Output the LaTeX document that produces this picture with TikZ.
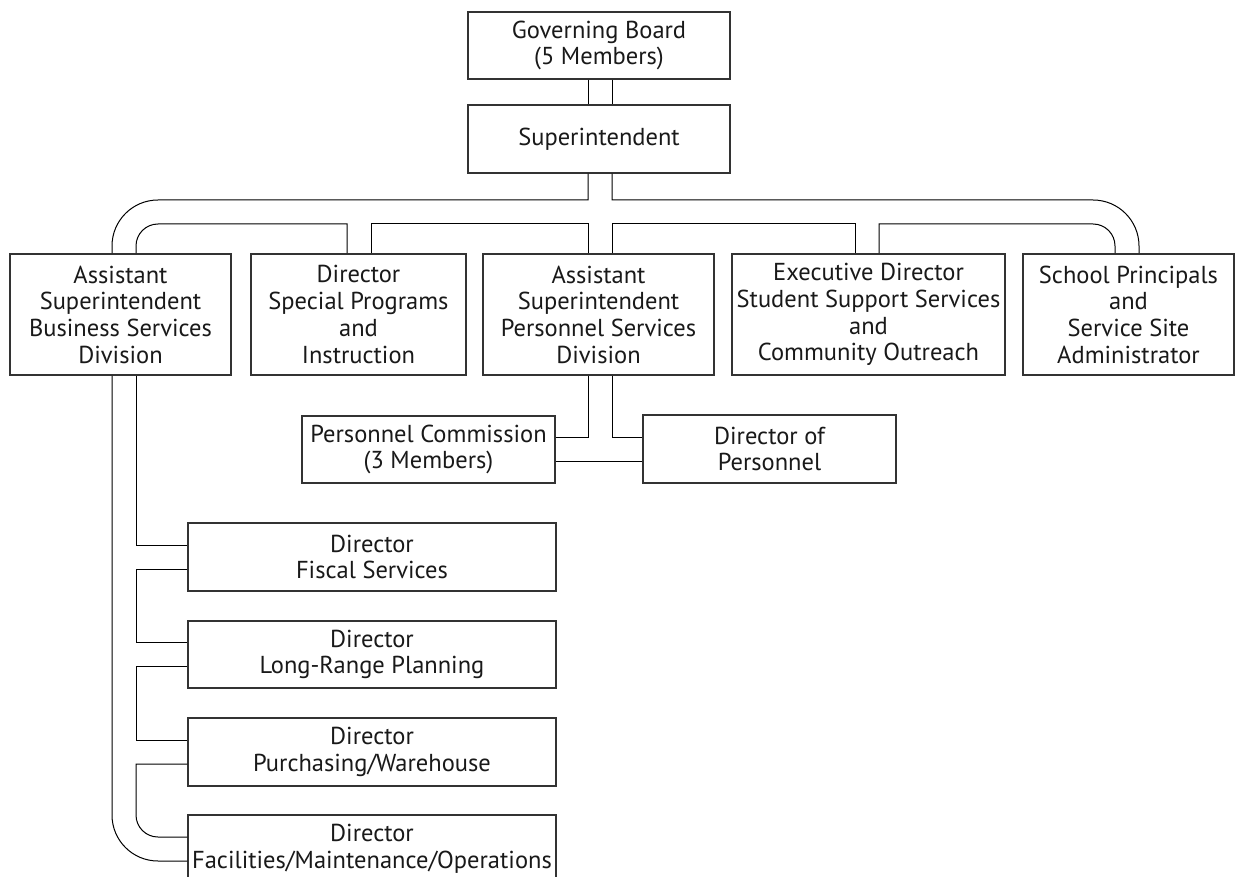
\documentclass[tikz,border=0pt]{standalone}
\usepackage{fontspec}
\setmainfont{PT Sans}
\usetikzlibrary{calc}
\begin{document}
\begin{tikzpicture}[x=1pt,y=-1pt,
  box/.style={draw=black!80, line width=1.5pt, fill=white, inner sep=0pt, align=center,
    text=black!90, font=\fontsize{24.5}{26.7}\selectfont},
  conn/.style={draw=black, line width=1pt}]
\useasboundingbox (0,0) rectangle (1237,877);
\clip (0,0) rectangle (1237,877);

% nodes
\node[box, minimum width=262, minimum height=67] (gb) at (599,45.5) {Governing Board\\(5 Members)};
\node[box, minimum width=262, minimum height=68] (sup) at (599,139) {Superintendent};
\node[box, minimum width=221, minimum height=121] (b1) at (120.5,314.5) {Assistant\\Superintendent\\Business Services\\Division};
\node[box, minimum width=215, minimum height=121] (b2) at (358.5,314.5) {Director\\Special Programs\\and\\Instruction};
\node[box, minimum width=231, minimum height=121] (b3) at (598.5,314.5) {Assistant\\Superintendent\\Personnel Services\\Division};
\node[box, minimum width=273, minimum height=121] (b4) at (868.5,314.5) {Executive Director\\Student Support Services\\and\\Community Outreach};
\node[box, minimum width=211, minimum height=121] (b5) at (1128.5,314.5) {School Principals\\and\\Service Site\\Administrator};
\node[box, minimum width=253, minimum height=67] (pc) at (428.5,449.5) {Personnel Commission\\(3 Members)};
\node[box, minimum width=253, minimum height=68] (dop) at (769.5,449) {Director of\\Personnel};
\node[box, minimum width=368, minimum height=68] (fs) at (372,557) {Director\\Fiscal Services};
\node[box, minimum width=368, minimum height=67] (lrp) at (372,654.5) {Director\\Long-Range Planning};
\node[box, minimum width=368, minimum height=68] (pw) at (372,752) {Director\\Purchasing/Warehouse};
\node[box, minimum width=368, minimum height=68] (fmo) at (372,849) {Director\\Facilities/Maintenance/Operations};

% helper coordinates
\coordinate (xL1) at (112,0);
\coordinate (xL2) at (136,0);
\coordinate (xA) at (588,0);
\coordinate (xB) at (612,0);
\coordinate (xC) at (347,0);
\coordinate (xD) at (371,0);
\coordinate (xE) at (855,0);
\coordinate (xF) at (879,0);
\coordinate (xR1) at (1139,0);
\coordinate (xR2) at (1115,0);
\coordinate (yO) at (0,200);
\coordinate (yI) at (0,224);
\coordinate (yP) at (0,437.5);

% board to superintendent
\draw[conn] (xA |- gb.south) -- (xA |- sup.north);
\draw[conn] (xB |- gb.south) -- (xB |- sup.north);

% outer track
\draw[conn] (xA |- sup.south) -- (xA |- yO) -- (158,200)
  arc[start angle=270, end angle=180, radius=46] -- (xL1 |- b1.north);
\draw[conn] (xB |- sup.south) -- (xB |- yO) -- (1093,200)
  arc[start angle=270, end angle=360, radius=46] -- (xR1 |- b5.north);

% inner track
\draw[conn] (xC |- b2.north) -- (xC |- yI) -- (158,224)
  arc[start angle=270, end angle=180, radius=22] -- (xL2 |- b1.north);
\draw[conn] (xD |- b2.north) -- (xD |- yI) -- (xA |- yI) -- (xA |- b3.north);
\draw[conn] (xB |- b3.north) -- (xB |- yI) -- (xE |- yI) -- (xE |- b4.north);
\draw[conn] (xF |- b4.north) -- (xF |- yI) -- (1093,224)
  arc[start angle=270, end angle=360, radius=22] -- (xR2 |- b5.north);

% personnel
\draw[conn] (xA |- b3.south) -- (xA |- yP) -- ($(pc.east)+(0,-12)$);
\draw[conn] (xB |- b3.south) -- (xB |- yP) -- (dop.west |- yP);
\draw[conn] ($(pc.east)+(0,12)$) -- (dop.west |- {$(pc.east)+(0,12)$});

% business services chain
\draw[conn] (xL2 |- b1.south) -- (xL2 |- {$(fs.west)+(0,-12)$}) -- ($(fs.west)+(0,-12)$);
\draw[conn] ($(fs.west)+(0,12)$) -- (xL2 |- {$(fs.west)+(0,12)$}) -- (xL2 |- {$(lrp.west)+(0,-12)$}) -- ($(lrp.west)+(0,-12)$);
\draw[conn] ($(lrp.west)+(0,12)$) -- (xL2 |- {$(lrp.west)+(0,12)$}) -- (xL2 |- {$(pw.west)+(0,-12)$}) -- ($(pw.west)+(0,-12)$);
\draw[conn] ($(pw.west)+(0,12)$) -- (xL2 |- {$(pw.west)+(0,12)$}) -- (136,815)
  arc[start angle=180, end angle=90, radius=22] -- ($(fmo.west)+(0,-12)$);
\draw[conn] (xL1 |- b1.south) -- (112,815)
  arc[start angle=180, end angle=90, radius=46] -- ($(fmo.west)+(0,12)$);
\end{tikzpicture}
\end{document}
